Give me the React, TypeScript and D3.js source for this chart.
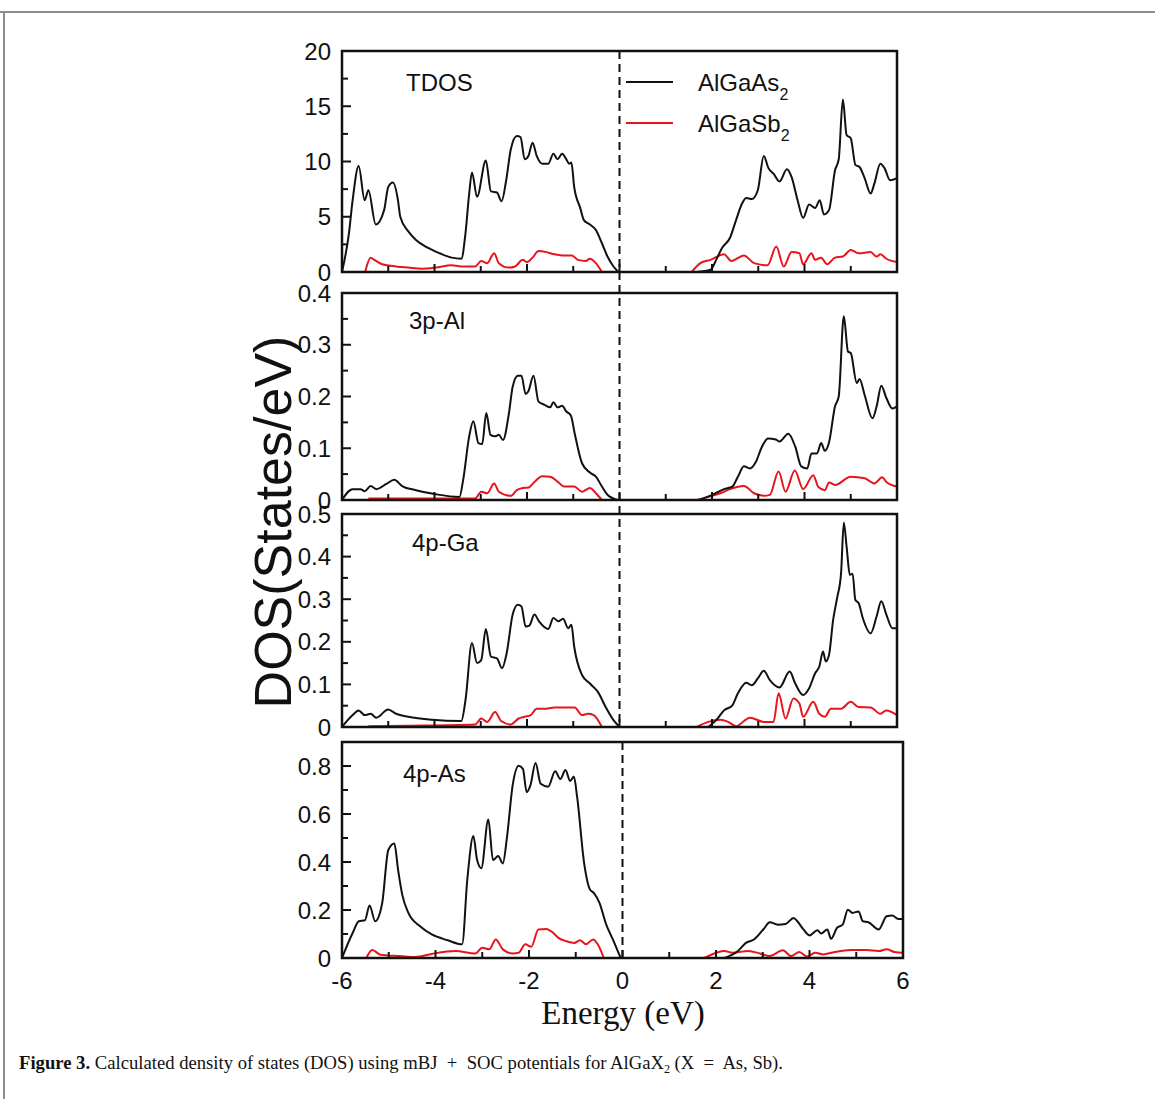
import React from "react";
import * as d3 from "d3";

// Energy (eV) vs DOS, pairs [E, DOS]. VB = valence side, CB = conduction side.
const tdosAsVB: [number, number][] = [
  [-6.0, 0], [-5.85, 3.5], [-5.77, 6.5], [-5.64, 9.6], [-5.51, 6.5], [-5.43, 7.4], [-5.27, 4.3],
  [-5.09, 5.6], [-5.0, 7.7], [-4.9, 8.1], [-4.79, 6.5], [-4.74, 5.0], [-4.57, 3.7], [-4.4, 2.9],
  [-4.15, 2.2], [-3.89, 1.7], [-3.63, 1.3], [-3.42, 1.2], [-3.33, 3.5], [-3.25, 7.1], [-3.19, 9.0],
  [-3.08, 6.8], [-2.89, 10.1], [-2.78, 7.3], [-2.65, 7.2], [-2.55, 6.4], [-2.45, 8.3], [-2.35, 11.1],
  [-2.22, 12.3], [-2.14, 12.2], [-2.05, 10.2], [-1.97, 10.5], [-1.88, 11.7], [-1.79, 10.5],
  [-1.67, 9.8], [-1.54, 9.8], [-1.43, 10.7], [-1.34, 10.2], [-1.24, 10.7], [-1.15, 10.2],
  [-1.09, 9.8], [-1.04, 9.9], [-0.98, 7.7], [-0.85, 5.8], [-0.77, 4.7], [-0.64, 4.3], [-0.51, 3.8],
  [-0.38, 2.6], [-0.26, 1.4], [-0.13, 0.5], [-0.02, 0],
];
const tdosAsCB: [number, number][] = [
  [1.67, 0], [1.97, 0.2], [2.09, 1.1], [2.22, 2.2], [2.39, 3.1], [2.52, 4.7], [2.65, 6.2], [2.74, 6.7],
  [2.86, 6.6], [2.99, 7.4], [3.12, 10.5], [3.22, 9.4], [3.33, 8.9], [3.46, 8.2], [3.62, 9.3],
  [3.72, 8.6], [3.85, 6.5], [3.97, 4.9], [4.1, 6.1], [4.23, 5.8], [4.33, 6.5], [4.42, 5.2],
  [4.53, 5.6], [4.66, 9.2], [4.74, 10.2], [4.83, 15.6], [4.91, 12.4], [5.0, 12.1], [5.1, 9.7],
  [5.19, 9.5], [5.3, 8.5], [5.43, 7.1], [5.51, 8.0], [5.64, 9.8], [5.73, 9.4], [5.85, 8.3], [6.0, 8.5],
];
const tdosSbVB: [number, number][] = [
  [-5.5, 0], [-5.38, 1.3], [-5.3, 1.1], [-5.13, 0.7], [-4.83, 0.5], [-4.57, 0.4], [-4.27, 0.3],
  [-3.97, 0.4], [-3.63, 0.6], [-3.38, 0.5], [-3.12, 0.5], [-2.99, 1.0], [-2.86, 0.8], [-2.71, 1.7],
  [-2.61, 0.8], [-2.39, 0.4], [-2.26, 0.5], [-2.09, 1.1], [-2.0, 0.9], [-1.88, 1.3], [-1.75, 1.9],
  [-1.58, 1.8], [-1.41, 1.6], [-1.24, 1.5], [-1.03, 1.5], [-0.9, 1.1], [-0.73, 1.0], [-0.64, 1.2],
  [-0.51, 0.8], [-0.38, 0],
];
const tdosSbCB: [number, number][] = [
  [1.56, 0], [1.75, 0.8], [1.97, 1.1], [2.26, 1.6], [2.42, 1.0], [2.69, 1.5], [2.91, 0.8], [3.2, 0.6],
  [3.39, 2.3], [3.55, 0.5], [3.72, 1.8], [3.89, 1.7], [3.97, 0.7], [4.15, 1.7], [4.23, 1.1],
  [4.36, 1.3], [4.49, 0.7], [4.66, 1.3], [4.83, 1.4], [5.0, 2.0], [5.17, 1.7], [5.43, 1.8],
  [5.56, 1.4], [5.64, 1.6], [5.77, 1.2], [6.0, 0.9],
];

const alAsVB: [number, number][] = [
  [-6.0, 0], [-5.77, 0.021], [-5.6, 0.021], [-5.51, 0.017], [-5.38, 0.027], [-5.26, 0.021],
  [-5.04, 0.031], [-4.87, 0.039], [-4.7, 0.027], [-4.4, 0.019], [-3.97, 0.011], [-3.46, 0.006],
  [-3.38, 0.039], [-3.25, 0.123], [-3.16, 0.152], [-3.05, 0.11], [-2.97, 0.108], [-2.88, 0.168],
  [-2.79, 0.126], [-2.69, 0.123], [-2.61, 0.126], [-2.52, 0.116], [-2.39, 0.168], [-2.31, 0.219],
  [-2.2, 0.24], [-2.12, 0.24], [-2.03, 0.205], [-1.97, 0.21], [-1.86, 0.24], [-1.75, 0.19],
  [-1.62, 0.184], [-1.5, 0.179], [-1.43, 0.189], [-1.34, 0.179], [-1.24, 0.182], [-1.15, 0.171],
  [-1.05, 0.163], [-0.97, 0.129], [-0.81, 0.071], [-0.64, 0.053], [-0.51, 0.045], [-0.38, 0.026],
  [-0.26, 0.01], [-0.04, 0],
];
const alAsCB: [number, number][] = [
  [1.71, 0], [2.01, 0.01], [2.26, 0.021], [2.44, 0.026], [2.56, 0.045], [2.69, 0.065], [2.82, 0.061],
  [2.95, 0.074], [3.08, 0.103], [3.21, 0.119], [3.38, 0.117], [3.46, 0.113], [3.65, 0.128],
  [3.8, 0.103], [3.93, 0.065], [4.06, 0.061], [4.15, 0.09], [4.27, 0.09], [4.36, 0.11], [4.44, 0.095],
  [4.53, 0.111], [4.66, 0.181], [4.74, 0.2], [4.85, 0.355], [4.94, 0.287], [5.0, 0.284],
  [5.13, 0.226], [5.19, 0.234], [5.3, 0.203], [5.47, 0.158], [5.56, 0.181], [5.66, 0.221],
  [5.77, 0.197], [5.9, 0.177], [6.0, 0.181],
];
const alSbVB: [number, number][] = [
  [-5.43, 0.003], [-4.57, 0.003], [-3.12, 0.003], [-2.99, 0.016], [-2.86, 0.013], [-2.71, 0.032],
  [-2.61, 0.016], [-2.35, 0.008], [-2.22, 0.019], [-2.09, 0.023], [-1.97, 0.024], [-1.84, 0.035],
  [-1.67, 0.046], [-1.5, 0.045], [-1.32, 0.034], [-1.2, 0.026], [-0.98, 0.026], [-0.81, 0.016],
  [-0.64, 0.023], [-0.51, 0.013], [-0.38, 0],
];
const alSbCB: [number, number][] = [
  [1.67, 0], [1.92, 0.006], [2.18, 0.013], [2.39, 0.021], [2.69, 0.027], [2.91, 0.013], [3.12, 0.008],
  [3.25, 0.01], [3.44, 0.055], [3.59, 0.016], [3.79, 0.057], [3.97, 0.021], [4.19, 0.048],
  [4.3, 0.025], [4.44, 0.019], [4.53, 0.034], [4.66, 0.029], [5.0, 0.045], [5.3, 0.042],
  [5.51, 0.032], [5.68, 0.044], [5.77, 0.035], [6.0, 0.026],
];

const gaAsVB: [number, number][] = [
  [-6.0, 0], [-5.77, 0.028], [-5.64, 0.039], [-5.51, 0.028], [-5.38, 0.031], [-5.26, 0.022],
  [-5.0, 0.041], [-4.83, 0.031], [-4.57, 0.024], [-4.06, 0.017], [-3.42, 0.014], [-3.33, 0.063],
  [-3.19, 0.197], [-3.08, 0.15], [-2.99, 0.157], [-2.89, 0.23], [-2.78, 0.165], [-2.65, 0.161],
  [-2.54, 0.138], [-2.44, 0.173], [-2.31, 0.264], [-2.2, 0.287], [-2.12, 0.283], [-2.03, 0.236],
  [-1.95, 0.238], [-1.84, 0.264], [-1.74, 0.248], [-1.54, 0.23], [-1.43, 0.256], [-1.32, 0.248],
  [-1.22, 0.254], [-1.11, 0.232], [-1.04, 0.24], [-0.98, 0.189], [-0.81, 0.122], [-0.64, 0.102],
  [-0.47, 0.083], [-0.3, 0.047], [-0.13, 0.016], [0.0, 0],
];
const gaAsCB: [number, number][] = [
  [1.92, 0], [2.09, 0.016], [2.26, 0.039], [2.44, 0.051], [2.56, 0.079], [2.74, 0.104],
  [2.86, 0.098], [2.99, 0.114], [3.12, 0.132], [3.25, 0.11], [3.46, 0.093], [3.68, 0.13],
  [3.8, 0.102], [3.97, 0.075], [4.1, 0.091], [4.23, 0.126], [4.32, 0.142], [4.4, 0.177],
  [4.46, 0.154], [4.53, 0.169], [4.62, 0.252], [4.7, 0.3], [4.79, 0.36], [4.85, 0.48], [4.91, 0.424],
  [4.98, 0.357], [5.04, 0.36], [5.1, 0.298], [5.17, 0.291], [5.26, 0.256], [5.43, 0.22],
  [5.56, 0.26], [5.66, 0.295], [5.77, 0.264], [5.9, 0.232], [6.0, 0.232],
];
const gaSbVB: [number, number][] = [
  [-5.43, 0.002], [-4.57, 0.003], [-3.12, 0.006], [-2.99, 0.02], [-2.86, 0.012], [-2.69, 0.035],
  [-2.56, 0.014], [-2.35, 0.006], [-2.18, 0.02], [-2.05, 0.024], [-1.92, 0.028], [-1.79, 0.043],
  [-1.58, 0.043], [-1.41, 0.046], [-1.15, 0.046], [-0.97, 0.046], [-0.81, 0.028], [-0.68, 0.031],
  [-0.56, 0.028], [-0.38, 0],
];
const gaSbCB: [number, number][] = [
  [1.67, 0], [1.92, 0.012], [2.18, 0.017], [2.35, 0.012], [2.52, 0.002], [2.82, 0.022],
  [3.12, 0.012], [3.33, 0.012], [3.44, 0.079], [3.59, 0.02], [3.76, 0.067], [3.89, 0.055],
  [3.97, 0.024], [4.19, 0.059], [4.32, 0.031], [4.44, 0.024], [4.57, 0.043], [4.79, 0.043],
  [5.0, 0.059], [5.17, 0.047], [5.43, 0.046], [5.64, 0.031], [5.77, 0.039], [6.0, 0.028],
];

const asAsVB: [number, number][] = [
  [-6.0, 0], [-5.77, 0.105], [-5.64, 0.153], [-5.51, 0.157], [-5.41, 0.219], [-5.29, 0.153],
  [-5.14, 0.229], [-5.01, 0.45], [-4.88, 0.477], [-4.8, 0.367], [-4.71, 0.263], [-4.58, 0.188],
  [-4.33, 0.132], [-4.08, 0.098], [-3.74, 0.074], [-3.43, 0.057], [-3.32, 0.326], [-3.19, 0.508],
  [-3.11, 0.408], [-3.02, 0.374], [-2.87, 0.577], [-2.77, 0.408], [-2.66, 0.425], [-2.56, 0.394],
  [-2.47, 0.505], [-2.35, 0.719], [-2.22, 0.801], [-2.13, 0.788], [-2.05, 0.691], [-1.97, 0.719],
  [-1.86, 0.812], [-1.75, 0.726], [-1.59, 0.714], [-1.44, 0.778], [-1.33, 0.746], [-1.22, 0.783],
  [-1.12, 0.737], [-1.04, 0.756], [-0.97, 0.67], [-0.82, 0.394], [-0.7, 0.287], [-0.61, 0.27],
  [-0.49, 0.229], [-0.36, 0.146], [-0.19, 0.07], [-0.04, 0],
];
const asAsCB: [number, number][] = [
  [2.18, 0], [2.47, 0.029], [2.64, 0.063], [2.81, 0.077], [3.02, 0.121], [3.15, 0.149],
  [3.32, 0.139], [3.49, 0.142], [3.66, 0.167], [3.74, 0.153], [3.87, 0.119], [4.0, 0.094],
  [4.17, 0.116], [4.25, 0.102], [4.38, 0.119], [4.46, 0.08], [4.59, 0.126], [4.71, 0.139],
  [4.82, 0.201], [4.92, 0.188], [5.05, 0.194], [5.14, 0.153], [5.26, 0.149], [5.48, 0.119],
  [5.65, 0.174], [5.77, 0.177], [5.9, 0.163], [6.0, 0.163],
];
const asSbVB: [number, number][] = [
  [-5.48, 0], [-5.35, 0.033], [-5.18, 0.014], [-4.76, 0.008], [-4.42, 0.004], [-4.08, 0.017],
  [-3.57, 0.029], [-3.15, 0.019], [-3.0, 0.043], [-2.85, 0.036], [-2.71, 0.077], [-2.56, 0.036],
  [-2.35, 0.019], [-2.22, 0.022], [-2.08, 0.057], [-1.95, 0.047], [-1.8, 0.119], [-1.63, 0.121],
  [-1.5, 0.108], [-1.37, 0.084], [-1.2, 0.07], [-1.03, 0.063], [-0.91, 0.074], [-0.78, 0.057],
  [-0.63, 0.077], [-0.53, 0.057], [-0.4, 0],
];
const asSbCB: [number, number][] = [
  [1.75, 0], [2.01, 0.022], [2.18, 0.029], [2.35, 0.022], [2.69, 0.029], [2.94, 0.019], [3.15, 0.008],
  [3.43, 0.032], [3.61, 0.008], [3.78, 0.025], [3.95, 0.006], [4.12, 0.022], [4.29, 0.015],
  [4.54, 0.025], [4.88, 0.033], [5.22, 0.033], [5.48, 0.029], [5.65, 0.036], [5.82, 0.025],
  [6.0, 0.022],
];

// Axis settings per panel
const panelLabels = ["TDOS", "3p-Al", "4p-Ga", "4p-As"];
const yMax = [20, 0.4, 0.5, 0.9];
const yMajorTicks = [
  [0, 5, 10, 15, 20],
  [0, 0.1, 0.2, 0.3, 0.4],
  [0, 0.1, 0.2, 0.3, 0.4, 0.5],
  [0, 0.2, 0.4, 0.6, 0.8],
];
const yMinorStep = [2.5, 0.05, 0.05, 0.1];
const xTickValues = [-6, -4, -2, 0, 2, 4, 6];
const xMinorValues = d3.range(-6, 7, 1);
const legendNames = ["AlGaAs", "AlGaSb"];
const seriesColors = ["#111111", "#e8141b"];

const W = 1155;
const H = 1099;

// Panel boxes: [left, right, top, bottom]
const boxes: [number, number, number, number][] = [
  [342, 897, 51, 272],
  [342, 897, 293, 500],
  [342, 897, 514, 727],
  [342, 903, 742, 958],
];
const labelPos: [number, number][] = [
  [406, 82],
  [409, 320],
  [412, 542],
  [403, 773],
];

const asSeries = [
  [tdosAsVB, tdosAsCB],
  [alAsVB, alAsCB],
  [gaAsVB, gaAsCB],
  [asAsVB, asAsCB],
];
const sbSeries = [
  [tdosSbVB, tdosSbCB],
  [alSbVB, alSbCB],
  [gaSbVB, gaSbCB],
  [asSbVB, asSbCB],
];

const sansFont = "'Liberation Sans', Arial, Helvetica, sans-serif";
const serifFont = "'Liberation Serif', 'Times New Roman', serif";
const tickFont = 24;

function fmt(v: number) {
  return v === 0 ? "0" : String(+v.toFixed(2));
}

function Panel({ i }: { i: number }) {
  const [l, r, t, b] = boxes[i];
  const x = d3.scaleLinear().domain([-6, 6]).range([l, r]);
  const y = d3.scaleLinear().domain([0, yMax[i]]).range([b, t]);
  const line = d3
    .line<[number, number]>()
    .x((d) => x(d[0]))
    .y((d) => y(d[1]))
    .curve(d3.curveMonotoneX);
  const minor = d3.range(0, yMax[i] + 1e-9, yMinorStep[i]);
  return (
    <g>
      {/* red drawn first, black on top */}
      {sbSeries[i].map((s, k) => (
        <path key={"sb" + k} d={line(s) || ""} fill="none" stroke={seriesColors[1]} strokeWidth={2} strokeLinejoin="round" />
      ))}
      {asSeries[i].map((s, k) => (
        <path key={"as" + k} d={line(s) || ""} fill="none" stroke={seriesColors[0]} strokeWidth={2} strokeLinejoin="round" />
      ))}
      {/* x ticks, inward */}
      {xMinorValues.map((v) => (
        <line key={"xt" + v} x1={x(v)} x2={x(v)} y1={b} y2={b - (v % 2 === 0 ? 8 : 6)} stroke="#111" strokeWidth={2} />
      ))}
      {/* y ticks, inward */}
      {minor.map((v) => {
        const major = yMajorTicks[i].some((m) => Math.abs(m - v) < 1e-9);
        return (
          <line key={"yt" + v} x1={l} x2={l + (major ? 9 : 6)} y1={y(v)} y2={y(v)} stroke="#111" strokeWidth={2} />
        );
      })}
      {yMajorTicks[i].map((v) => (
        <text key={"yl" + v} x={331} y={y(v)} dy="0.36em" textAnchor="end" fontFamily={sansFont} fontSize={tickFont} fill="#111">
          {fmt(v)}
        </text>
      ))}
      <rect x={l} y={t} width={r - l} height={b - t} fill="none" stroke="#111" strokeWidth={2.5} />
      <text x={labelPos[i][0]} y={labelPos[i][1]} dy="0.36em" fontFamily={sansFont} fontSize={tickFont} fill="#111">
        {panelLabels[i]}
      </text>
      {i === 3 &&
        xTickValues.map((v) => (
          <text key={"xl" + v} x={x(v)} y={980} dy="0.36em" textAnchor="middle" fontFamily={sansFont} fontSize={tickFont} fill="#111">
            {v}
          </text>
        ))}
    </g>
  );
}

export default function App() {
  const xTop = d3.scaleLinear().domain([-6, 6]).range([boxes[0][0], boxes[0][1]]);
  const xBot = d3.scaleLinear().domain([-6, 6]).range([boxes[3][0], boxes[3][1]]);
  return (
    <svg
      width={W}
      height={H}
      viewBox={`0 0 ${W} ${H}`}
      style={{ position: "absolute", left: 0, top: 0, background: "#fff" }}
    >
      <rect x={0} y={0} width={W} height={H} fill="#fff" />
      {/* page frame */}
      <line x1={0} x2={W} y1={12} y2={12} stroke="#8c8c8c" strokeWidth={2} />
      <line x1={4} x2={4} y1={12} y2={H} stroke="#8c8c8c" strokeWidth={2} />

      {/* Fermi level */}
      <line x1={xTop(0)} x2={xTop(0)} y1={boxes[0][2]} y2={boxes[2][3]} stroke="#111" strokeWidth={2} strokeDasharray="8,5" />
      <line x1={xBot(0)} x2={xBot(0)} y1={boxes[3][2]} y2={boxes[3][3]} stroke="#111" strokeWidth={2} strokeDasharray="8,5" />

      {[0, 1, 2, 3].map((i) => (
        <Panel key={i} i={i} />
      ))}

      {/* legend */}
      {legendNames.map((name, k) => (
        <g key={name}>
          <line x1={626} x2={673} y1={82 + k * 41} y2={82 + k * 41} stroke={seriesColors[k]} strokeWidth={2} />
          <text x={698} y={82 + k * 41} dy="0.36em" fontFamily={sansFont} fontSize={tickFont} fill="#111">
            {name}
            <tspan fontSize={16} dy={9}>2</tspan>
          </text>
        </g>
      ))}

      {/* axis titles */}
      <text
        transform="translate(291,522) rotate(-90)"
        textAnchor="middle"
        fontFamily={sansFont}
        fontSize={52}
        fill="#111"
      >
        DOS(States/eV)
      </text>
      <text x={623} y={1024} textAnchor="middle" fontFamily={serifFont} fontSize={33} fill="#111">
        Energy (eV)
      </text>

      {/* caption */}
      <text x={19} y={1069} fontFamily={serifFont} fontSize={18.5} fill="#111" textLength={764} lengthAdjust="spacingAndGlyphs">
        <tspan fontWeight="bold">Figure 3.</tspan>
        {" Calculated density of states (DOS) using mBJ \u00A0+\u00A0 SOC potentials for AlGaX"}
        <tspan fontSize={12} dy={4}>2</tspan>
        <tspan dy={-4}>{" (X \u00A0=\u00A0 As, Sb)."}</tspan>
      </text>
    </svg>
  );
}
